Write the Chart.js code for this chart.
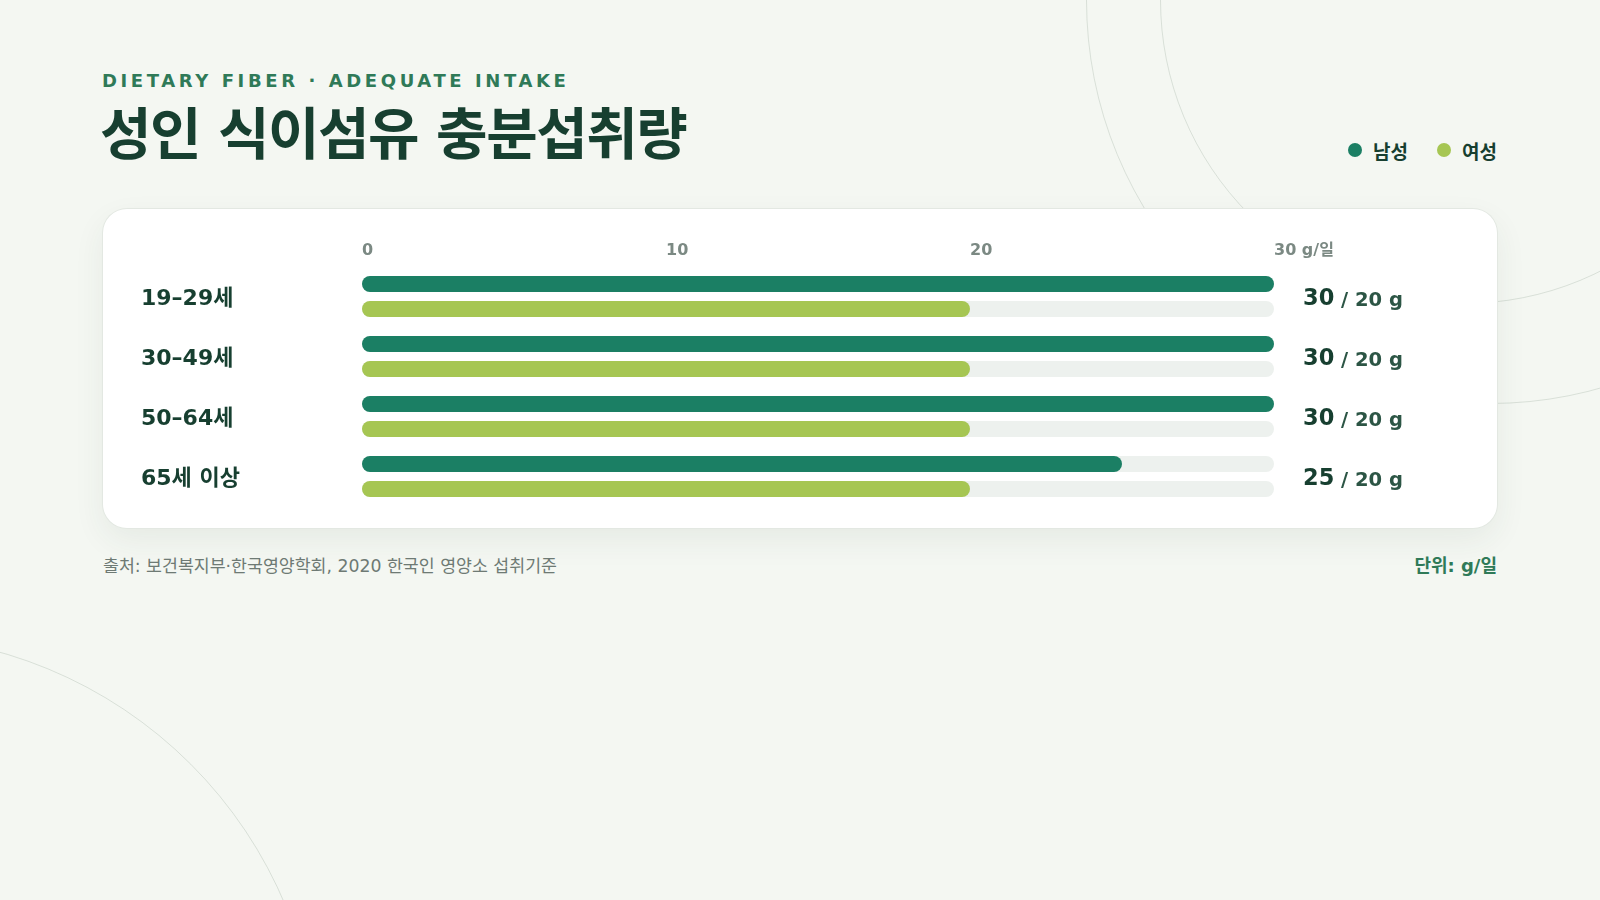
<!DOCTYPE html>
<html lang="ko">
<head>
<meta charset="utf-8">
<title>성인 식이섬유 충분섭취량</title>
<script src="https://cdn.jsdelivr.net/npm/chart.js@4.4.1/dist/chart.umd.min.js"></script>
<style>
  html, body { margin: 0; padding: 0; }
  body {
    width: 1600px; height: 900px; overflow: hidden; position: relative;
    background: #f4f7f2;
    font-family: "DejaVu Sans", "Noto Sans CJK KR", sans-serif;
  }
  .ring { position: absolute; border-radius: 50%; border: 1px solid rgba(120,140,125,0.22); box-sizing: border-box; }
  .eyebrow {
    position: absolute; left: 102px; top: 70px; margin: 0;
    font-size: 18px; line-height: 22px; font-weight: 700; letter-spacing: 3.6px;
    color: #2f7a58;
  }
  .title {
    position: absolute; left: 100px; top: 101px; margin: 0;
    font-size: 56px; line-height: 68px; font-weight: 700; letter-spacing: -1.5px;
    color: #173f30;
  }
  .legend {
    position: absolute; right: 103px; top: 137px; height: 26px;
    display: flex; align-items: center; gap: 29px;
  }
  .legend-item { display: flex; align-items: center; gap: 11px; font-size: 19px; font-weight: 700; color: #173f30; }
  .legend-dot { width: 14px; height: 14px; border-radius: 50%; }
  .card {
    position: absolute; left: 103px; top: 209px; width: 1394px; height: 319px;
    background: #ffffff; border-radius: 24px;
    box-shadow: 0 0 0 1px #e3e8e2, 0 12px 32px rgba(40,70,50,0.07);
  }
  .card canvas { position: absolute; left: 0; top: 0; }
  .footer {
    position: absolute; top: 554px; line-height: 24px; margin: 0;
  }
  .source { left: 103px; font-size: 17.3px; color: #6e7a74; }
  .unit { right: 103px; font-size: 18px; font-weight: 700; color: #2f7a58; }
</style>
</head>
<body>
<div class="ring" style="left:1086px; top:-404px; width:808px; height:808px;"></div>
<div class="ring" style="left:1160px; top:-304px; width:608px; height:608px;"></div>
<div class="ring" style="left:-560px; top:635px; width:880px; height:880px;"></div>

<p class="eyebrow">DIETARY FIBER · ADEQUATE INTAKE</p>
<h1 class="title">성인 식이섬유 충분섭취량</h1>
<div class="legend" id="legend"></div>

<div class="card">
  <canvas id="chart" width="1394" height="319" style="width:1394px;height:319px;"></canvas>
</div>

<p class="footer source">출처: 보건복지부·한국영양학회, 2020 한국인 영양소 섭취기준</p>
<p class="footer unit">단위: g/일</p>

<script>
// ---- data ----
const ageGroups = ['19–29세', '30–49세', '50–64세', '65세 이상'];
const seriesNames = ['남성', '여성'];
const maleValues = [30, 30, 30, 25];
const femaleValues = [20, 20, 20, 20];
const axisTicks = [0, 10, 20, 30];
const unitLabel = 'g/일';
const valueUnit = 'g';

// ---- style ----
const seriesColors = ['#1b7f64', '#a6c653'];
const trackColor = '#edf1ee';
const FONT = '"DejaVu Sans", "Noto Sans CJK KR", sans-serif';

// legend (HTML, from the series arrays)
const legendEl = document.getElementById('legend');
seriesNames.forEach((name, i) => {
  const item = document.createElement('div');
  item.className = 'legend-item';
  const dot = document.createElement('span');
  dot.className = 'legend-dot';
  dot.style.background = seriesColors[i];
  const txt = document.createElement('span');
  txt.textContent = name;
  item.appendChild(dot); item.appendChild(txt);
  legendEl.appendChild(item);
});

const axisMin = axisTicks[0];
const axisMax = axisTicks[axisTicks.length - 1];

// track behind each bar (full scale range)
const trackPlugin = {
  id: 'tracks',
  beforeDatasetsDraw(chart) {
    const ctx = chart.ctx;
    const xs = chart.scales.x;
    const x0 = xs.getPixelForValue(axisMin);
    const x1 = xs.getPixelForValue(axisMax);
    ctx.save();
    ctx.fillStyle = trackColor;
    chart.data.datasets.forEach((ds, di) => {
      const meta = chart.getDatasetMeta(di);
      meta.data.forEach(el => {
        const p = el.getProps(['y', 'height'], true);
        const h = p.height;
        ctx.beginPath();
        ctx.roundRect(x0, p.y - h / 2, x1 - x0, h, h / 2);
        ctx.fill();
      });
    });
    ctx.restore();
  }
};

// value labels at right of each row
const valuePlugin = {
  id: 'values',
  afterDatasetsDraw(chart) {
    const ctx = chart.ctx;
    const ys = chart.scales.y;
    const xStart = chart.chartArea.right + 29;
    ctx.save();
    ctx.textBaseline = 'middle';
    ctx.textAlign = 'left';
    ageGroups.forEach((g, i) => {
      const y = ys.getPixelForValue(i) + 3;
      const m = String(chart.data.datasets[0].data[i]);
      const f = String(chart.data.datasets[1].data[i]);
      ctx.font = '700 22.5px ' + FONT;
      ctx.fillStyle = '#173f30';
      ctx.fillText(m, xStart, y);
      const w = ctx.measureText(m).width;
      ctx.font = '700 19.5px ' + FONT;
      ctx.fillStyle = '#2c5545';
      ctx.fillText(' / ' + f + ' ' + valueUnit, xStart + w, y + 1);
    });
    ctx.restore();
  }
};

Chart.defaults.font.family = FONT;

new Chart(document.getElementById('chart'), {
  type: 'bar',
  data: {
    labels: ageGroups,
    datasets: [
      { label: seriesNames[0], data: maleValues, backgroundColor: seriesColors[0] },
      { label: seriesNames[1], data: femaleValues, backgroundColor: seriesColors[1] }
    ]
  },
  options: {
    indexAxis: 'y',
    responsive: false,
    animation: false,
    layout: { padding: { left: 38, right: 223, top: 0, bottom: 21.5 } },
    datasets: {
      bar: {
        categoryPercentage: 50 / 60,
        barPercentage: 0.64,
        borderRadius: 8,
        borderSkipped: false
      }
    },
    plugins: {
      legend: { display: false },
      tooltip: { enabled: false }
    },
    scales: {
      x: {
        position: 'top',
        min: axisMin,
        max: axisMax,
        afterBuildTicks(scale) { scale.ticks = axisTicks.map(v => ({ value: v })); },
        afterFit(scale) { scale.height = 57.5; },
        grid: { display: false, drawTicks: false },
        border: { display: false },
        ticks: {
          align: 'start',
          padding: 6,
          color: '#7b8983',
          font: { size: 16, weight: '700' },
          callback: (v) => (v === axisMax ? v + ' ' + unitLabel : String(v))
        }
      },
      y: {
        afterFit(scale) { scale.width = 221; },
        grid: { display: false, drawTicks: false },
        border: { display: false },
        ticks: {
          crossAlign: 'far',
          padding: 0,
          labelOffset: 3,
          color: '#173f30',
          font: { size: 22, weight: '700' }
        }
      }
    }
  },
  plugins: [trackPlugin, valuePlugin]
});
</script>
</body>
</html>
